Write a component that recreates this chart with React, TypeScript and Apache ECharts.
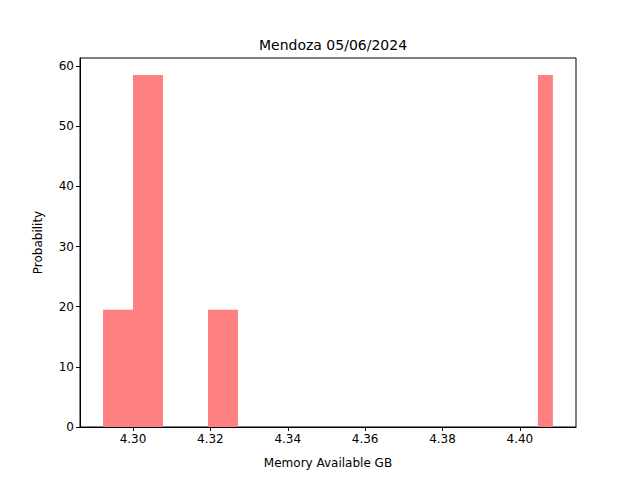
import React, { useEffect, useRef } from 'react';
import * as echarts from 'echarts';

const binStarts = [4.29225, 4.3, 4.31938, 4.40465];
const binEnds = [4.3, 4.30775, 4.32713, 4.40853];
const densities = [19.5, 58.5, 19.5, 58.5];
const xTicks = [4.3, 4.32, 4.34, 4.36, 4.38, 4.4];
const yTicks = [0, 10, 20, 30, 40, 50, 60];

const App: React.FC = () => {
  const chartRef = useRef<HTMLDivElement>(null);

  useEffect(() => {
    if (!chartRef.current) return;
    const chart = echarts.init(chartRef.current, undefined, { renderer: 'svg' });
    const font = 'DejaVu Sans';
    chart.setOption({
      animation: false,
      textStyle: { fontFamily: font },
      title: {
        text: 'Mendoza 05/06/2024',
        left: 328,
        top: 33,
        textAlign: 'center',
        textStyle: { fontFamily: font, fontSize: 14, fontWeight: 'normal', color: '#000' },
      },
      grid: {
        left: 80, right: 64, top: 58, bottom: 53,
        show: true, borderColor: '#000', borderWidth: 1, backgroundColor: 'transparent',
      },
      xAxis: {
        type: 'value',
        min: 4.2863,
        max: 4.4145,
        name: 'Memory Available GB',
        nameLocation: 'middle',
        nameGap: 30,
        nameTextStyle: { fontFamily: font, fontSize: 12, color: '#000' },
        axisLine: { show: true, lineStyle: { color: '#000' } },
        axisTick: { show: true, length: 4, customValues: xTicks, lineStyle: { color: '#000' } },
        axisLabel: {
          customValues: xTicks, color: '#000', fontSize: 12, margin: 6,
          formatter: (v: number) => v.toFixed(2),
        },
        splitLine: { show: false },
      },
      yAxis: {
        type: 'value',
        min: 0,
        max: 61.33,
        name: 'Probability',
        nameLocation: 'middle',
        nameGap: 36,
        nameTextStyle: { fontFamily: font, fontSize: 12, color: '#000' },
        axisLine: { show: true, lineStyle: { color: '#000' } },
        axisTick: { show: true, length: 4, customValues: yTicks, lineStyle: { color: '#000' } },
        axisLabel: { customValues: yTicks, color: '#000', fontSize: 12, margin: 6 },
        splitLine: { show: false },
      },
      series: [
        {
          type: 'custom',
          data: binStarts.map((s, i) => [s, binEnds[i], densities[i]]),
          renderItem: (params: any, api: any) => {
            const p0 = api.coord([api.value(0), api.value(2)]);
            const p1 = api.coord([api.value(1), 0]);
            return {
              type: 'rect',
              shape: { x: p0[0], y: p0[1], width: p1[0] - p0[0], height: p1[1] - p0[1] },
              style: { fill: '#ff8080' },
            };
          },
        },
      ],
    });
    return () => chart.dispose();
  }, []);

  return <div ref={chartRef} style={{ width: 640, height: 480, position: 'absolute', left: 0, top: 0 }} />;
};

export default App;
